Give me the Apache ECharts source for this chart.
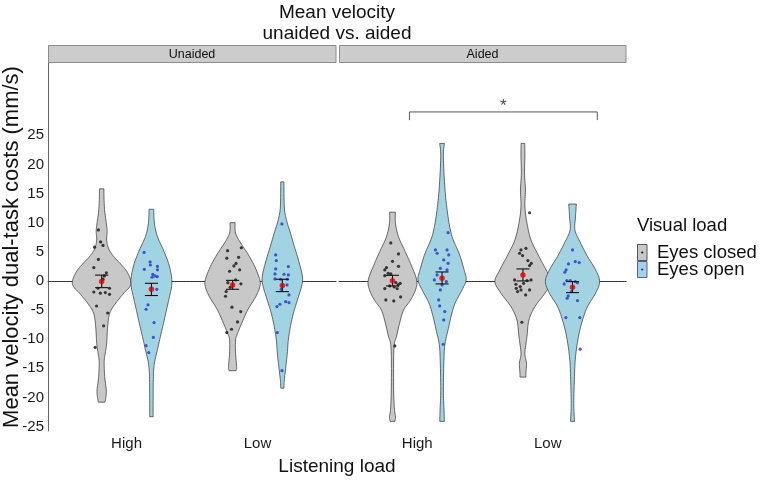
<!DOCTYPE html>
<html>
<head>
<meta charset="utf-8">
<script src="https://cdn.jsdelivr.net/npm/echarts@6/dist/echarts.min.js"></script>
<style>html,body{margin:0;padding:0;background:#fff}#chart{width:767px;height:480px}</style>
</head>
<body>
<div id="chart"></div>
<script>
// ---------- DATA ----------
const categories = ['High', 'Low'];
const facets = ['Unaided', 'Aided'];
const groups = ['Eyes closed', 'Eyes open'];
const yTicks = [-25, -20, -15, -10, -5, 0, 5, 10, 15, 20, 25];
const refLineValue = 0;

// violin outlines: [value, half-width in category units]
const vUnaidedHighClosed = [[15.8,0.017],[14,0.018],[12,0.023],[10,0.035],[8.5,0.042],[7,0.038],[5.5,0.054],[4.2,0.092],[2.5,0.162],[1.3,0.2],[0,0.223],[-1,0.215],[-2.1,0.169],[-3.8,0.108],[-5.5,0.062],[-7.8,0.046],[-10.7,0.038],[-12.5,0.027],[-13.8,0.019],[-16.4,0.023],[-18.7,0.035],[-20,0.032],[-20.8,0.025]];
const vUnaidedHighOpen = [[12.3,0.018],[9.9,0.023],[7.6,0.046],[5.3,0.092],[3.0,0.131],[0.7,0.154],[-1.0,0.154],[-2.7,0.138],[-5,0.115],[-7.3,0.092],[-9.5,0.069],[-11.8,0.046],[-14.1,0.023],[-16.4,0.015],[-21,0.013],[-23.3,0.013]];
const vUnaidedLowClosed = [[10.0,0.019],[8.2,0.023],[6.5,0.062],[4.7,0.115],[2.5,0.169],[0.2,0.208],[-1,0.208],[-2.7,0.177],[-5,0.115],[-7.3,0.069],[-9,0.038],[-10.1,0.023],[-12.4,0.023],[-14.7,0.031],[-15.4,0.027]];
const vUnaidedLowOpen = [[17,0.012],[12.7,0.015],[10.5,0.031],[8.2,0.062],[5.9,0.092],[3.6,0.123],[0.7,0.154],[-1,0.146],[-3.3,0.115],[-5.5,0.085],[-7.8,0.062],[-10.1,0.046],[-12.4,0.038],[-14.7,0.027],[-17,0.015],[-18.4,0.012]];
const vAidedHighClosed = [[11.8,0.022],[9.9,0.023],[7.6,0.046],[5.3,0.092],[3,0.138],[0.2,0.185],[-1.5,0.177],[-3.3,0.138],[-5,0.085],[-7.3,0.054],[-9.5,0.031],[-10.7,0.015],[-13,0.009],[-18.7,0.009],[-22,0.015],[-23.3,0.023],[-24.1,0.019]];
const vAidedHighOpen = [[23.6,0.018],[21.3,0.01],[15.6,0.023],[11,0.046],[7.6,0.077],[4.7,0.131],[1.9,0.169],[0.2,0.185],[-1.5,0.154],[-3.8,0.1],[-6.1,0.069],[-8.4,0.046],[-10.7,0.023],[-13,0.015],[-18.7,0.01],[-22,0.015],[-24.1,0.018]];
const vAidedLowClosed = [[23.6,0.014],[21.3,0.015],[18.5,0.012],[15.6,0.019],[12.7,0.015],[9.9,0.031],[7,0.062],[4.2,0.123],[1.9,0.177],[-0.1,0.215],[-2.1,0.169],[-4.4,0.092],[-6.7,0.046],[-9.5,0.031],[-12.4,0.015],[-14.1,0.027],[-15.8,0.023],[-16.5,0.023]];
const vAidedLowOpen = [[13.2,0.029],[11,0.023],[8.7,0.019],[6.5,0.062],[4.2,0.115],[1.9,0.177],[-0.1,0.208],[-2.1,0.177],[-4.4,0.115],[-6.7,0.077],[-9.5,0.046],[-13,0.023],[-16.4,0.015],[-21,0.01],[-24.1,0.015]];

// jittered participant points: [jitter offset, value]
const pUnaidedHighClosed = [[-0.025,8.75],[-0.008,6.7],[0.01,6.1],[-0.054,5.8],[-0.025,3.7],[-0.06,2.3],[0.036,1.4],[0.02,0.86],[0.01,0.3],[-0.028,-1.25],[0.06,-1.25],[-0.06,-1.9],[-0.01,-2.1],[0.028,-2.0],[0.06,-2.3],[-0.039,-4.3],[0.046,-5.5],[0.015,-7.7],[-0.05,-11.4]];
const pUnaidedHighOpen = [[-0.056,4.9],[-0.01,3.26],[-0.008,2.74],[0.046,2.5],[-0.054,2.0],[0.046,1.9],[0.01,1.14],[0.026,0.86],[0.005,0.63],[0.044,0.74],[0.041,-1.43],[-0.026,-4.1],[-0.041,-4.86],[0.02,-7.15],[0.015,-9.7],[-0.041,-11.1],[-0.02,-12.3]];
const pUnaidedLowClosed = [[-0.038,5.2],[0.067,5.7],[-0.044,3.9],[0.046,4.06],[0.026,3.0],[0.01,2.57],[-0.023,1.66],[0.054,1.9],[0.023,0.17],[-0.036,-0.29],[0.064,-0.5],[-0.018,-1.09],[-0.049,-1.83],[-0.054,-2.63],[-0.005,-4.5],[0.062,-5.26],[0.038,-7.03],[-0.008,-8.29],[-0.044,-8.86]];
const pUnaidedLowOpen = [[-0.003,9.78],[-0.051,4.46],[-0.046,3.49],[0.046,2.46],[-0.051,2.06],[-0.056,1.2],[0.013,1.15],[0.046,1.03],[-0.056,0.34],[-0.013,0.29],[0.038,0.29],[0.036,-0.69],[-0.008,-1.43],[0.051,-2.4],[0.026,-3.55],[0.051,-3.72],[-0.018,-4.0],[-0.041,-4.4],[-0.038,-8.86],[-0.003,-15.4]];
const pAidedHighClosed = [[-0.013,6.52],[0.046,4.63],[0,3.37],[0.046,2.51],[-0.046,2.29],[-0.059,1.89],[-0.033,1.31],[-0.013,1.2],[-0.059,0.91],[0.026,-0.29],[0.059,-0.4],[-0.021,-0.86],[0.044,-0.69],[0.013,-1.03],[-0.059,-1.31],[0.036,-1.31],[-0.051,-3.26],[0.01,-3.43],[0.062,-2.74],[0.018,-11.15]];
const pAidedHighOpen = [[0.046,8.29],[-0.051,5.32],[-0.038,4.75],[0.038,5.32],[0.051,4.46],[0.013,3.6],[0.046,3.03],[-0.013,2.17],[0.038,1.89],[-0.038,1.03],[-0.059,0.17],[0.033,-0.11],[0,-0.69],[-0.013,-1.54],[-0.026,-3.26],[-0.018,-4.29],[0.021,-5.26],[0.013,-6.69],[0.008,-10.86]];
const pAidedLowClosed = [[0.051,11.7],[0.023,5.6],[-0.015,5.32],[-0.026,4.75],[-0.003,4.35],[0.038,3.49],[0.064,3.03],[0.051,2.63],[-0.064,0.17],[0.031,0.06],[0.062,0.17],[-0.054,-0.57],[0.005,-0.4],[-0.021,-0.97],[-0.051,-1.26],[-0.015,-1.54],[0.051,-1.54],[-0.041,-1.83],[0.021,-2.4],[-0.008,-7.09]];
const pAidedLowOpen = [[0,5.32],[0.021,3.32],[0.051,3.15],[-0.031,2.92],[-0.049,1.89],[-0.059,1.49],[-0.044,0.06],[-0.018,0.06],[0.021,-0.11],[0.038,-0.29],[-0.064,-0.51],[-0.008,-1.83],[-0.033,-2.57],[-0.041,-2.97],[0.038,-3.37],[-0.051,-6.29],[0.056,-6.29],[0.059,-11.7]];

// means [High, Low] and standard-error bars [lower, upper]
const meanClosedUnaided = [-0.1, -0.69];
const meanOpenUnaided = [-1.43, -0.8];
const meanClosedAided = [0.05, 1.03];
const meanOpenAided = [0.46, -1.09];
const seClosedUnaided = [[-1.15, 1.0], [-1.43, 0.1]];
const seOpenUnaided = [[-2.5, -0.4], [-1.83, 0.29]];
const seClosedAided = [[-0.86, 0.97], [0.0, 2.06]];
const seOpenAided = [[-0.51, 1.54], [-2.0, -0.11]];

// significance bracket (Aided panel)
const sigBracketX = [0.94, 2.38];
const sigBracketY = [27.6, 29];
const sigLabel = '*';

// ---------- BUILD ----------
const FONT = 'Liberation Sans, Arial, sans-serif';
const fillColors = ['#c8c8c8', '#a2d3e3'];
const pointColors = ['#111111', '#2433c8'];
const DODGE = 0.19;

const facetViolins = [
  [[vUnaidedHighClosed, vUnaidedHighOpen], [vUnaidedLowClosed, vUnaidedLowOpen]],
  [[vAidedHighClosed, vAidedHighOpen], [vAidedLowClosed, vAidedLowOpen]]
];
const facetPoints = [
  [[pUnaidedHighClosed, pUnaidedHighOpen], [pUnaidedLowClosed, pUnaidedLowOpen]],
  [[pAidedHighClosed, pAidedHighOpen], [pAidedLowClosed, pAidedLowOpen]]
];
const facetMeans = [[meanClosedUnaided, meanOpenUnaided], [meanClosedAided, meanOpenAided]];
const facetSE = [[seClosedUnaided, seOpenUnaided], [seClosedAided, seOpenAided]];

function pos(c, g) { return c + 1 + (g === 0 ? -DODGE : DODGE); }

function smoothProfile(prof, n) {
  const out = [];
  for (let i = 0; i < prof.length - 1; i++) {
    const p0 = prof[i - 1] || prof[i], p1 = prof[i], p2 = prof[i + 1], p3 = prof[i + 2] || prof[i + 1];
    for (let t = 0; t < n; t++) {
      const s = t / n, s2 = s * s, s3 = s2 * s;
      const q = [0, 1].map(k => 0.5 * ((2 * p1[k]) + (-p0[k] + p2[k]) * s + (2 * p0[k] - 5 * p1[k] + 4 * p2[k] - p3[k]) * s2 + (-p0[k] + 3 * p1[k] - 3 * p2[k] + p3[k]) * s3));
      q[1] = Math.max(q[1], 0.006);
      out.push(q);
    }
  }
  out.push(prof[prof.length - 1]);
  return out;
}

const series = [];
facets.forEach((fname, f) => {
  // dotted reference line behind violins
  series.push({
    type: 'custom', xAxisIndex: f, yAxisIndex: f, z: 1, silent: true,
    data: [[1.5, refLineValue]], encode: { x: 0, y: 1 },
    renderItem: function (params, api) {
      const cs = params.coordSys;
      const y = Math.round(api.coord([1.5, api.value(1)])[1]) + 0.5;
      return { type: 'line', shape: { x1: cs.x, y1: y, x2: cs.x + cs.width, y2: y }, style: { stroke: '#444', lineWidth: 1, lineDash: [1, 2] } };
    }
  });
  const specs = [];
  for (let c = 0; c < 2; c++) for (let g = 0; g < 2; g++) specs.push({ x: pos(c, g), prof: facetViolins[f][c][g], color: fillColors[g] });
  series.push({
    type: 'custom', xAxisIndex: f, yAxisIndex: f, z: 2, silent: true,
    data: specs.map(s => [s.x, 0]),
    encode: { x: 0, y: 1 },
    renderItem: function (params, api) {
      const s = specs[params.dataIndex];
      const sp = smoothProfile(s.prof, 8);
      const right = sp.map(p => api.coord([s.x + p[1], p[0]]));
      const left = sp.slice().reverse().map(p => api.coord([s.x - p[1], p[0]]));
      return { type: 'polygon', shape: { points: right.concat(left) }, style: { fill: s.color, stroke: '#3a3a3a', lineWidth: 0.75 } };
    }
  });
  for (let g = 0; g < 2; g++) {
    const data = [];
    for (let c = 0; c < 2; c++) facetPoints[f][c][g].forEach(p => data.push([pos(c, g) + p[0], p[1]]));
    series.push({
      type: 'scatter', xAxisIndex: f, yAxisIndex: f, z: 3, silent: true,
      symbolSize: 3.2, itemStyle: { color: pointColors[g] }, data
    });
  }
  const eb = [];
  for (let g = 0; g < 2; g++) for (let c = 0; c < 2; c++) eb.push([pos(c, g), facetSE[f][g][c][0], facetSE[f][g][c][1]]);
  series.push({
    type: 'custom', xAxisIndex: f, yAxisIndex: f, z: 4, silent: true,
    data: eb, encode: { x: 0, y: [1, 2] },
    renderItem: function (params, api) {
      const x = api.value(0), lo = api.value(1), hi = api.value(2);
      const a = api.coord([x, hi]), b = api.coord([x, lo]);
      const hw = api.size([0.05, 0])[0];
      const st = { stroke: '#111', lineWidth: 1.1 };
      return {
        type: 'group', children: [
          { type: 'line', shape: { x1: a[0], y1: a[1], x2: b[0], y2: b[1] }, style: st },
          { type: 'line', shape: { x1: a[0] - hw, y1: a[1], x2: a[0] + hw, y2: a[1] }, style: st },
          { type: 'line', shape: { x1: b[0] - hw, y1: b[1], x2: b[0] + hw, y2: b[1] }, style: st }
        ]
      };
    }
  });
  const md = [];
  for (let g = 0; g < 2; g++) for (let c = 0; c < 2; c++) md.push([pos(c, g), facetMeans[f][g][c]]);
  series.push({
    type: 'scatter', xAxisIndex: f, yAxisIndex: f, z: 5, silent: true,
    symbolSize: 5.5, itemStyle: { color: '#e00000' }, data: md
  });
});
// significance bracket
series.push({
  type: 'line', xAxisIndex: 1, yAxisIndex: 1, z: 3, silent: true, symbol: 'none',
  lineStyle: { color: '#555', width: 1 },
  data: [[sigBracketX[0], sigBracketY[0]], [sigBracketX[0], sigBracketY[1]], [sigBracketX[1], sigBracketY[1]], [sigBracketX[1], sigBracketY[0]]]
});
series.push({
  type: 'scatter', xAxisIndex: 1, yAxisIndex: 1, z: 3, silent: true, symbolSize: 1,
  itemStyle: { color: 'rgba(0,0,0,0)' },
  label: { show: true, position: 'inside', formatter: sigLabel, fontSize: 17, color: '#111', fontFamily: FONT },
  data: [[(sigBracketX[0] + sigBracketX[1]) / 2, sigBracketY[1] + 0.9]]
});

const grids = [
  { left: 48, top: 63, width: 288, height: 368 },
  { left: 339, top: 63, width: 287, height: 368 }
];
const xAxes = grids.map((g, i) => ({
  type: 'value', gridIndex: i, min: 0.4, max: 2.6,
  splitLine: { show: false },
  axisLine: { show: true, lineStyle: { color: '#333', width: 1 } },
  axisTick: { show: false },
  axisLabel: { show: true, customValues: [1, 2], formatter: v => categories[Math.round(v) - 1], fontSize: 15, color: '#1a1a1a', fontFamily: FONT, margin: 5 }
}));
const yAxes = grids.map((g, i) => ({
  type: 'value', gridIndex: i, min: -25.75, max: 37.4,
  splitLine: { show: false },
  axisLine: { show: i === 0, onZero: false, lineStyle: { color: '#666', width: 1 } },
  axisTick: { show: false },
  axisLabel: { show: i === 0, customValues: yTicks, fontSize: 15, color: '#1a1a1a', fontFamily: FONT, margin: 4 }
}));

function txt(x, y, text, size, align, extra) {
  return Object.assign({
    type: 'text', x, y, silent: true,
    style: { text, fontSize: size, fontFamily: FONT, fill: '#111', align: align, textAlign: align, verticalAlign: 'middle', textVerticalAlign: 'middle' }
  }, extra || {});
}

const graphic = [
  txt(337, 13, 'Mean velocity', 19, 'center'),
  txt(337, 34, 'unaided vs. aided', 19, 'center'),
  { type: 'rect', silent: true, shape: { x: 48.5, y: 45.5, width: 287.5, height: 17 }, style: { fill: '#cccccc', stroke: '#8c8c8c', lineWidth: 1 } },
  { type: 'rect', silent: true, shape: { x: 339.5, y: 45.5, width: 286.5, height: 17 }, style: { fill: '#cccccc', stroke: '#8c8c8c', lineWidth: 1 } },
  txt(192, 54.5, facets[0], 12.5, 'center'),
  txt(482.5, 54.5, facets[1], 12.5, 'center'),
  txt(12, 247, 'Mean velocity dual-task costs (mm/s)', 22, 'center', { rotation: Math.PI / 2 }),
  txt(337, 467, 'Listening load', 19, 'center'),
  // legend
  txt(637, 226, 'Visual load', 18.5, 'left'),
  { type: 'rect', silent: true, shape: { x: 637.5, y: 244.5, width: 9.5, height: 16 }, style: { fill: fillColors[0], stroke: '#555', lineWidth: 1 } },
  { type: 'circle', silent: true, shape: { cx: 642.2, cy: 252.5, r: 1.1 }, style: { fill: pointColors[0] } },
  { type: 'rect', silent: true, shape: { x: 637.5, y: 261.5, width: 9.5, height: 16 }, style: { fill: fillColors[1], stroke: '#5a5ab8', lineWidth: 1 } },
  { type: 'circle', silent: true, shape: { cx: 642.2, cy: 269.5, r: 1.1 }, style: { fill: pointColors[1] } },
  txt(657, 253, groups[0], 18.5, 'left'),
  txt(657, 270, groups[1], 18.5, 'left')
];

const chart = echarts.init(document.getElementById('chart'), null, { renderer: 'canvas' });
chart.setOption({
  animation: false,
  backgroundColor: '#ffffff',
  grid: grids,
  xAxis: xAxes,
  yAxis: yAxes,
  series,
  graphic
});
</script>
</body>
</html>
